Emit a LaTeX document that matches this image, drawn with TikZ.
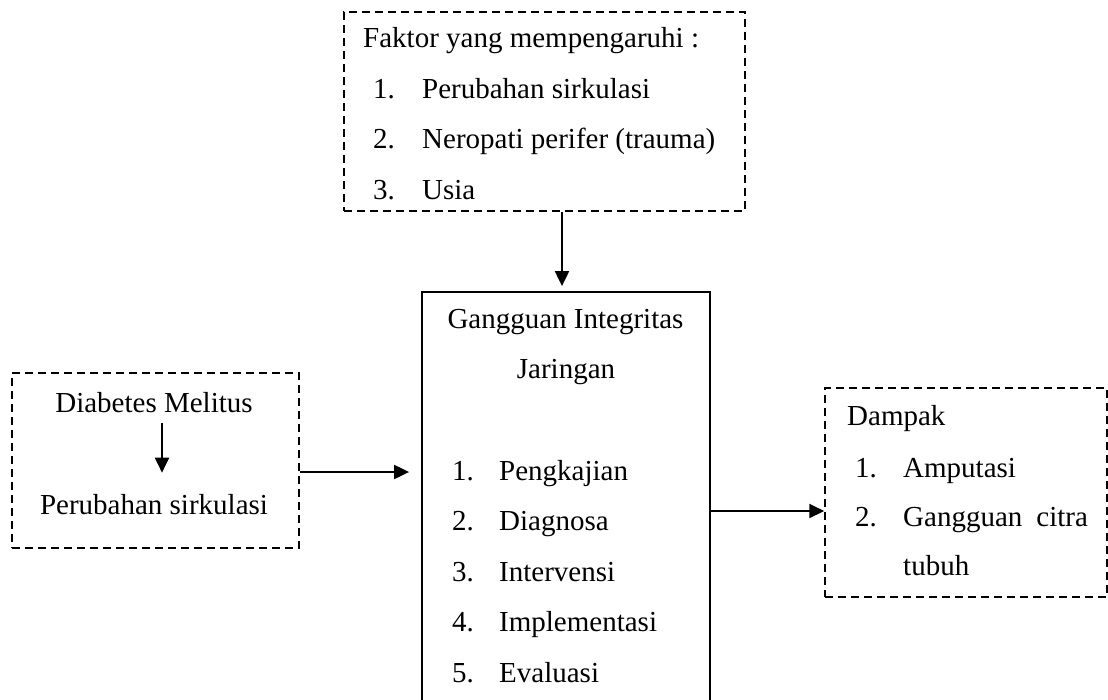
\documentclass[tikz,border=0pt]{standalone}
\usepackage{fontspec}
\setmainfont{Liberation Serif}
\usetikzlibrary{arrows.meta}
\begin{document}
\begin{tikzpicture}[x=1pt,y=-1pt,
  txt/.style={inner sep=0pt,font=\fontsize{29}{35}\selectfont},
  dashbox/.style={draw,line width=1.5pt,dash pattern=on 8pt off 5pt,inner sep=0pt},
  solidbox/.style={draw,line width=1.8pt,inner sep=0pt},
  arr/.style={line width=2pt,-{Triangle[width=14pt,length=15pt]}}]
\clip (0,0) rectangle (1108,699);
\useasboundingbox (0,0) rectangle (1108,699);
% boxes
\node[dashbox,minimum width=401pt,minimum height=199pt] (top) at (544.5,111.5) {};
\node[solidbox,minimum width=288pt,minimum height=440pt] (mid) at (566,512) {};
\node[dashbox,minimum width=287pt,minimum height=175pt] (left) at (155.5,460.5) {};
\node[dashbox,minimum width=282pt,minimum height=209pt] (right) at (966,492.5) {};
% top texts
\node[txt,anchor=base west] (t0) at (363,47) {Faktor yang mempengaruhi :};
\node[txt,anchor=base west] (t1n) at (373,98) {1.};
\node[txt,anchor=base west] (t1) at (422,98) {Perubahan sirkulasi};
\node[txt,anchor=base west] (t2n) at (373,148) {2.};
\node[txt,anchor=base west] (t2) at (422,148) {Neropati perifer (trauma)};
\node[txt,anchor=base west] (t3n) at (373,199) {3.};
\node[txt,anchor=base west] (t3) at (422,199) {Usia};
% middle texts
\node[txt,anchor=base] (m0) at (565.5,328) {Gangguan Integritas};
\node[txt,anchor=base] (m00) at (566,378) {Jaringan};
\node[txt,anchor=base west] (m1n) at (452,480) {1.};
\node[txt,anchor=base west] (m1) at (499,480) {Pengkajian};
\node[txt,anchor=base west] (m2n) at (452,530.6) {2.};
\node[txt,anchor=base west] (m2) at (499,530.6) {Diagnosa};
\node[txt,anchor=base west] (m3n) at (452,581.2) {3.};
\node[txt,anchor=base west] (m3) at (499,581.2) {Intervensi};
\node[txt,anchor=base west] (m4n) at (452,631.8) {4.};
\node[txt,anchor=base west] (m4) at (499,631.8) {Implementasi};
\node[txt,anchor=base west] (m5n) at (452,682.4) {5.};
\node[txt,anchor=base west] (m5) at (499,682.4) {Evaluasi};
% left texts
\node[txt,anchor=base] (dm) at (154,412) {Diabetes Melitus};
\node[txt,anchor=base] (ps) at (154,514) {Perubahan sirkulasi};
% right texts
\node[txt,anchor=base west] (r0) at (847,425) {Dampak};
\node[txt,anchor=base west] (r1n) at (855,477) {1.};
\node[txt,anchor=base west] (r1) at (903,477) {Amputasi};
\node[txt,anchor=base west] (r2n) at (855,526) {2.};
\node[txt,anchor=base west] (r2) at (903,526) {Gangguan\hskip 14pt citra};
\node[txt,anchor=base west] (r3) at (903,575) {tubuh};
% arrows
\draw[arr,shorten >=5pt] ([xshift=17.5pt]top.south) -- ([xshift=-4pt]mid.north);
\draw[arr,shorten <=11pt,shorten >=21pt] ([xshift=8pt]dm.south) -- ([xshift=8pt]ps.north);
\draw[arr,shorten >=12pt] ([yshift=-11.5pt]left.east) -- ([yshift=40pt]mid.west);
\draw[arr] ([yshift=1pt]mid.east) -- ([yshift=-18.5pt]right.west);
\end{tikzpicture}
\end{document}
